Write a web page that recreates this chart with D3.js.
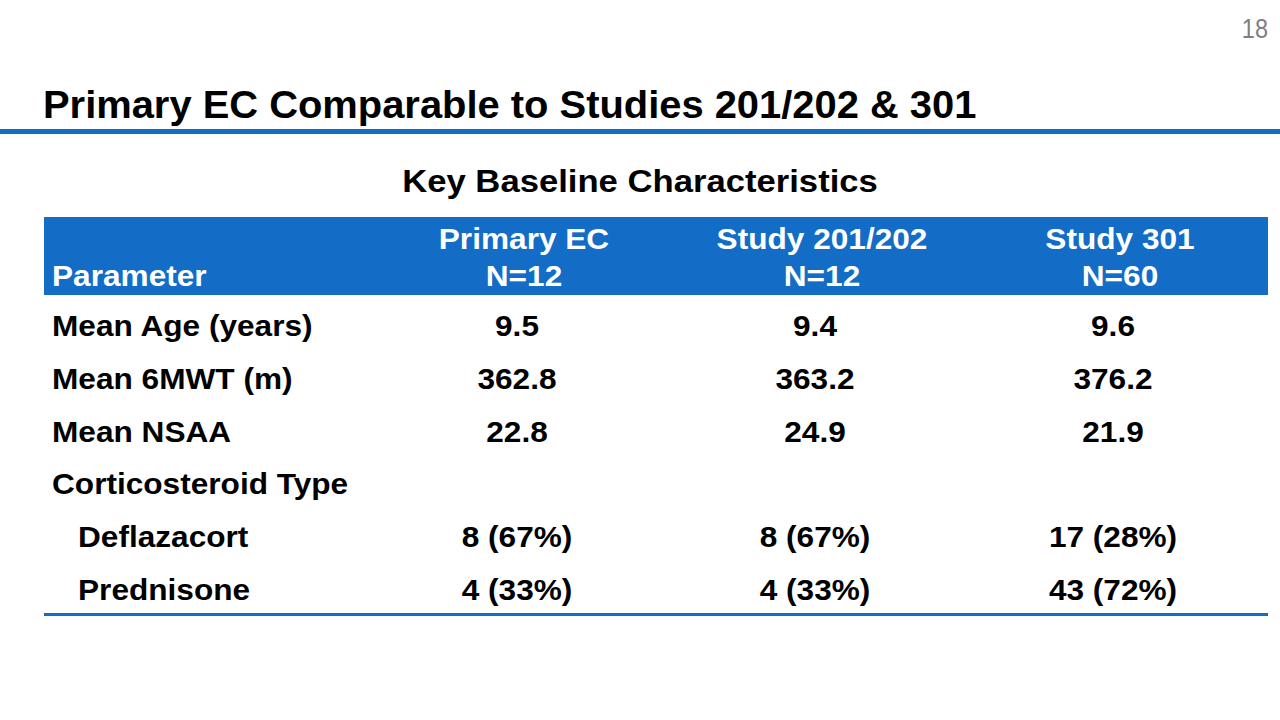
<!DOCTYPE html>
<head>
	<script src="https://d3js.org/d3.v7.min.js"></script>
	<style>
		body {
			margin: 0;
			background: #fff;
		}
		text {
			font-family: "Liberation Sans", Arial, sans-serif;
			font-weight: bold;
		}
		.title { font-size: 38px; fill: #000; }
		.subtitle { font-size: 32px; fill: #000; }
		.pagenum { font-weight: normal; font-size: 28px; fill: #7f7f7f; }
		.head { font-size: 29px; fill: #fff; }
		.cell { font-size: 29px; fill: #000; }
	</style>
</head>
<body>
	<script>
		// data
		var columns = ["Primary EC", "Study 201/202", "Study 301"];
		var columnN = ["N=12", "N=12", "N=60"];
		var rowLabels = ["Mean Age (years)", "Mean 6MWT (m)", "Mean NSAA", "Corticosteroid Type", "Deflazacort", "Prednisone"];
		var rowIndent = [false, false, false, false, true, true];
		var primaryEC = ["9.5", "362.8", "22.8", "", "8 (67%)", "4 (33%)"];
		var study201 = ["9.4", "363.2", "24.9", "", "8 (67%)", "4 (33%)"];
		var study301 = ["9.6", "376.2", "21.9", "", "17 (28%)", "43 (72%)"];
		var values = [primaryEC, study201, study301];

		var width = 1280;
		var height = 720;
		var table = { left: 44, right: 1268, headTop: 217, headBottom: 295 };
		var blue = "#136cc6";
		var stretch = 1.09; // slide text is a bit wider than Liberation Sans

		var svg = d3.select("body")
			.append("svg")
			.attr("width", width)
			.attr("height", height);

		// put text at x,y and widen it horizontally
		function place(x, y, sx) {
			return "translate(" + [x, y] + ") scale(" + sx + ",1)";
		}

		// scales
		var xScale = d3.scaleBand()
			.domain(columns)
			.range([371, 1265]);

		var yScale = d3.scaleBand()
			.domain(rowLabels)
			.range([300, 616]);

		function mid(c) { return xScale(c) + xScale.bandwidth() / 2; }

		// page number + title
		svg.append("text")
			.text("18")
			.attr("transform", place(1268, 38, 0.84))
			.attr("text-anchor", "end")
			.attr("class", "pagenum");

		svg.append("text")
			.text("Primary EC Comparable to Studies 201/202 & 301")
			.attr("transform", place(43, 118, 1.05))
			.attr("class", "title");

		svg.append("rect")
			.attr("x", 0)
			.attr("y", 129)
			.attr("width", width)
			.attr("height", 5)
			.attr("fill", blue);

		svg.append("text")
			.text("Key Baseline Characteristics")
			.attr("transform", place(width / 2, 192, 1.083))
			.attr("text-anchor", "middle")
			.attr("class", "subtitle");

		// header
		svg.append("rect")
			.attr("x", table.left)
			.attr("y", table.headTop)
			.attr("width", table.right - table.left)
			.attr("height", table.headBottom - table.headTop)
			.attr("fill", blue);

		svg.append("text")
			.text("Parameter")
			.attr("transform", place(52, 286, stretch))
			.attr("class", "head");

		var head = svg.selectAll(".headcol")
			.data(columns)
			.enter()
			.append("g")
			.attr("class", "headcol")
			.attr("transform", function(d) { return "translate(" + [mid(d) + 4, 0] + ")"; });

		head.append("text")
			.text(function(d) { return d; })
			.attr("transform", place(0, 249, stretch))
			.attr("text-anchor", "middle")
			.attr("class", "head");

		head.append("text")
			.text(function(d, i) { return columnN[i]; })
			.attr("transform", place(0, 286, stretch))
			.attr("text-anchor", "middle")
			.attr("class", "head");

		// rows
		var rows = svg.selectAll(".row")
			.data(rowLabels)
			.enter()
			.append("g")
			.attr("class", "row")
			.attr("transform", function(d) { return "translate(" + [0, yScale(d) + yScale.bandwidth() / 2 + 10] + ")"; });

		rows.append("text")
			.text(function(d) { return d; })
			.attr("transform", function(d, i) { return place(rowIndent[i] ? 78 : 52, 0, stretch); })
			.attr("class", "cell");

		rows.each(function(d, i) {
			d3.select(this).selectAll(".val")
				.data(columns)
				.enter()
				.append("text")
				.attr("class", "cell val")
				.attr("transform", function(c) { return place(mid(c) - 3, 0, stretch); })
				.attr("text-anchor", "middle")
				.text(function(c, j) { return values[j][i]; });
		});

		// bottom rule
		svg.append("rect")
			.attr("x", table.left)
			.attr("y", 613)
			.attr("width", table.right - table.left)
			.attr("height", 3)
			.attr("fill", blue);
	</script>
</body>
</html>
